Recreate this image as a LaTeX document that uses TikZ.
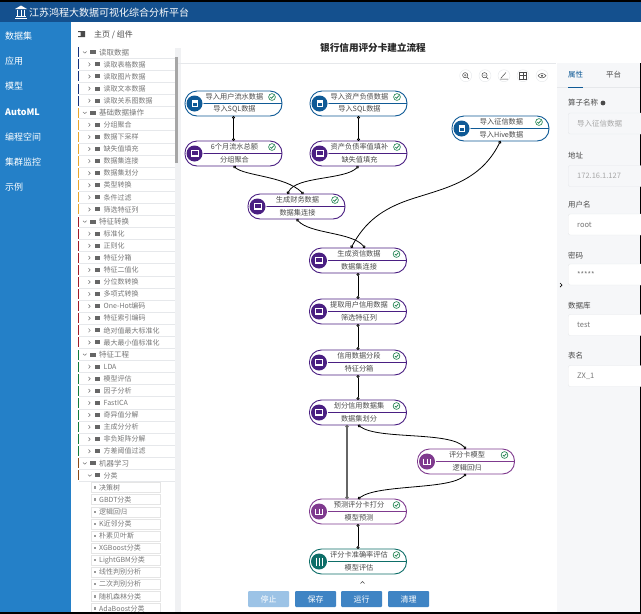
\documentclass[tikz,border=0pt]{standalone}
\usepackage{fontspec}
\setmainfont{Noto Sans CJK SC}
\usetikzlibrary{arrows.meta}
\definecolor{headblue}{HTML}{14508E}
\definecolor{sideblue}{HTML}{2480C8}
\definecolor{cardblue}{HTML}{0F5A96}
\definecolor{cardpurple}{HTML}{4A1F82}
\definecolor{cardmagenta}{HTML}{7F3A8E}
\definecolor{cardteal}{HTML}{0E6E68}
\definecolor{okgreen}{HTML}{117A45}
\definecolor{inktext}{HTML}{4A4A4A}
\definecolor{softtext}{HTML}{777777}
\definecolor{panelgrey}{HTML}{F6F7F9}
\definecolor{linegrey}{HTML}{E6E8EB}
\definecolor{barnavy}{HTML}{16307A}
\definecolor{barorange}{HTML}{E8A62C}
\definecolor{barred}{HTML}{A01C28}
\definecolor{bargreen}{HTML}{137A3C}
\definecolor{barbrown}{HTML}{8A4A18}
\definecolor{btnblue}{HTML}{3F84C4}
\definecolor{btnpale}{HTML}{9CC3E6}
\tikzset{port/.tip={Circle[open,fill=white,length=3pt,width=3pt]}}
\tikzstyle{card}=[draw,fill=white,rounded corners=12pt,minimum width=97pt,minimum height=25pt,inner sep=0pt,outer sep=0pt,line width=.9pt,anchor=north west]
\tikzstyle{cardtop}=[font=\fontsize{7.2}{8}\selectfont,text=inktext,inner sep=0pt]
\tikzstyle{cardsub}=[font=\fontsize{7.2}{8}\selectfont,text=inktext,inner sep=0pt]
\tikzstyle{flow}=[port-port,black,line width=.8pt]
\tikzstyle{sideitem}=[font=\fontsize{9}{10}\selectfont,text=white,anchor=west,inner sep=0pt]
\tikzstyle{treetext}=[font=\fontsize{7}{8}\selectfont,text=softtext,anchor=west,inner sep=0pt]
\tikzstyle{paneltext}=[font=\fontsize{7.5}{8}\selectfont,text=inktext,anchor=west,inner sep=0pt]
\tikzstyle{fieldbox}=[draw=linegrey,rounded corners=2pt,minimum width=78pt,minimum height=21pt,anchor=west,inner sep=0pt]
\tikzstyle{btn}=[text=white,font=\fontsize{8}{9}\selectfont,minimum width=41pt,minimum height=16pt,inner sep=0pt,rounded corners=1pt,anchor=west]
\tikzstyle{tool}=[draw=linegrey,circle,minimum size=12pt,inner sep=0pt,fill=white]
\tikzset{
  docicon/.pic={\fill[white] (-3,-3.5) rectangle (3,3.5); \fill[cardblue] (-2,-1) rectangle (2,2);},
  boxicon/.pic={\draw[white,line width=.7pt] (-3.5,-3) rectangle (3.5,1.5); \fill[white] (-4,2) rectangle (4,3.5);},
  bookicon/.pic={\draw[white,line width=.9pt] (-3.5,-3) -- (-3.5,3) -- (3.5,3) -- (3.5,-3) (0,-3) -- (0,3);},
  sliceicon/.pic={\draw[white,line width=.9pt] (-3,-4) -- (-3,4) (0,-4) -- (0,4) (3,-4) -- (3,4);},
  okmark/.pic={\draw[okgreen,line width=.6pt] (0,0) circle (3.4); \draw[okgreen,line width=.7pt] (-1.6,0) -- (-.4,1.3) -- (1.8,-1.3);}
}
% one block of the flow
\newcommand{\card}[7]{
  \path (#2,#3) node[card,draw=#4] (#1) {};
  \draw[#4,line width=.8pt] (#1.west) -- (#1.east);
  \fill[white] ([xshift=9.5pt]#1.west) circle (9pt);
  \fill[#4] ([xshift=9.5pt]#1.west) circle (8pt);
  \path ([xshift=9.5pt]#1.west) pic {#5};
  \path ([xshift=-10pt,yshift=6.5pt]#1.east) pic {okmark};
  \path ([xshift=1pt,yshift=6.3pt]#1.center) node[cardtop] (#1top) {#6};
  \path ([xshift=1pt,yshift=-6pt]#1.center) node[cardsub] (#1sub) {#7};
}
\begin{document}
\begin{tikzpicture}[x=1pt,y=-1pt]
\useasboundingbox (0,0) rectangle (641,614);
\fill[white] (0,0) rectangle (641,614);
% frame
\fill[sideblue] (0,22) rectangle (71,612);
\fill[headblue] (0,2) rectangle (641,22);
\fill[black] (0,0) rectangle (641,2);
\fill[black] (640.2,63) rectangle (641,614);
\draw[white,line width=.8pt] (15,18.5) -- (27,18.5) (16,16.5) -- (26,16.5) (17.5,9.5) -- (17.5,16) (21,9.5) -- (21,16) (24.5,9.5) -- (24.5,16);
\fill[white] (15,9) -- (21,5.5) -- (27,9) -- cycle;
\path (29,12.5) node[anchor=west,text=white,inner sep=0pt,font=\fontsize{10}{11}\selectfont] (apptitle) {江苏鸿程大数据可视化综合分析平台};
% left menu
\path (5,36) node[sideitem] (menu1) {数据集};
\path (5,61) node[sideitem] (menu2) {应用};
\path (5,86) node[sideitem] (menu3) {模型};
\path (5,112) node[sideitem,font=\fontsize{9}{10}\selectfont\bfseries] (menu4) {AutoML};
\path (5,137) node[sideitem] (menu5) {编程空间};
\path (5,162) node[sideitem] (menu6) {集群监控};
\path (5,187) node[sideitem] (menu7) {示例};
\fill[inktext] (78,31) rectangle (85,32.2) (78,36) rectangle (85,37.2) (80.5,32.2) rectangle (85,36);
\path (94,34.5) node[anchor=west,inner sep=0pt,text=inktext,font=\fontsize{8}{9}\selectfont] (crumb) {主页 / 组件};
% component tree
\fill[linegrey!60] (175,48) rectangle (181,612);
\fill[black!35] (175,57) rectangle (178,163);
\foreach \lvl/\barc/\txt [count=\i from 0] in {
 0/barnavy/读取数据,1/barnavy/读取表格数据,1/barnavy/读取图片数据,1/barnavy/读取文本数据,1/barnavy/读取关系图数据,
 0/barorange/基础数据操作,1/barorange/分组聚合,1/barorange/数据下采样,1/barorange/缺失值填充,1/barorange/数据集连接,1/barorange/数据集划分,1/barorange/类型转换,1/barorange/条件过滤,1/barorange/筛选特征列,
 0/barred/特征转换,1/barred/标准化,1/barred/正则化,1/barred/特征分箱,1/barred/特征二值化,1/barred/分位数转换,1/barred/多项式转换,1/barred/One-Hot编码,1/barred/特征索引编码,1/barred/绝对值最大标准化,1/barred/最大最小值标准化,
 0/bargreen/特征工程,1/bargreen/LDA,1/bargreen/模型评估,1/bargreen/因子分析,1/bargreen/FastICA,1/bargreen/奇异值分解,1/bargreen/主成分分析,1/bargreen/非负矩阵分解,1/bargreen/方差阈值过滤,
 0/barbrown/机器学习,2/barbrown/分类,
 3/white/决策树,3/white/GBDT分类,3/white/逻辑回归,3/white/K近邻分类,3/white/朴素贝叶斯,3/white/XGBoost分类,3/white/LightGBM分类,3/white/线性判别分析,3/white/二次判别分析,3/white/随机森林分类,3/white/AdaBoost分类}
{
  \pgfmathsetmacro\rowy{52.3+12.09*\i}
  \ifnum\lvl=3
    \path (91,\rowy) node[draw=black!10,anchor=west,minimum width=69pt,minimum height=10pt,inner sep=0pt] (leaf\i) {};
    \fill[black!40] (93.5,\rowy-1.2) rectangle (96,\rowy+1.2);
    \path (99,\rowy) node[treetext] (row\i) {\txt};
  \else
    \draw[linegrey] (79,\rowy+5.8) -- (175,\rowy+5.8);
    \fill[\barc] (78,\rowy-5) rectangle (79.2,\rowy+5);
    \ifnum\lvl=1
      \draw[black!55,line width=.5pt] (88.5,\rowy-1.8) -- (90.2,\rowy) -- (88.5,\rowy+1.8);
      \fill[black!60] (94.5,\rowy-2) rectangle (100,\rowy+2);
      \path (103.5,\rowy) node[treetext] (row\i) {\txt};
    \else
      \ifnum\lvl=0
        \draw[black!55,line width=.5pt] (83,\rowy-.8) -- (84.8,\rowy+.8) -- (86.6,\rowy-.8);
        \fill[black!60] (90,\rowy-2) rectangle (96,\rowy+2);
        \path (99,\rowy) node[treetext,font=\fontsize{7.5}{8}\selectfont] (row\i) {\txt};
      \else
        \draw[black!55,line width=.5pt] (88,\rowy-.8) -- (89.8,\rowy+.8) -- (91.6,\rowy-.8);
        \fill[black!60] (94.5,\rowy-2) rectangle (100,\rowy+2);
        \path (103.5,\rowy) node[treetext] (row\i) {\txt};
      \fi
    \fi
  \fi
}
\fill[black] (0,612) rectangle (641,614);
% title and tools
\path (373,47.5) node[inner sep=0pt,font=\fontsize{9.6}{11}\selectfont\bfseries,text=black!85] (flowtitle) {银行信用评分卡建立流程};
\draw[linegrey] (178,63.5) -- (556,63.5);
\path (465.7,75.7) node[tool] (toolA) {};
\path (485,75.7) node[tool] (toolB) {};
\path (504,75.7) node[tool] (toolC) {};
\path (523,75.7) node[tool] (toolD) {};
\path (542,75.7) node[tool] (toolE) {};
\draw[inktext,line width=.5pt] (465.2,75.2) circle (2.6) (467,77) -- (469,79) (464,75.2) -- (466.4,75.2) (465.2,74) -- (465.2,76.4);
\draw[inktext,line width=.5pt] (484.5,75.2) circle (2.6) (486.3,77) -- (488.3,79) (483.3,75.2) -- (485.7,75.2);
\draw[inktext,line width=.5pt] (500,79) -- (508,79) (501,78) -- (506,72.5);
\draw[inktext,line width=.5pt] (519.5,72.5) rectangle (526.5,79) (523,72.5) -- (523,79) (519.5,75.7) -- (526.5,75.7);
\draw[inktext,line width=.5pt] (538,75.7) .. controls (540,72.8) and (544,72.8) .. (546,75.7) .. controls (544,78.6) and (540,78.6) .. (538,75.7);
\fill[inktext] (542,75.7) circle (1.2);
% property panel
\fill[panelgrey] (557,63) rectangle (640.2,612);
\draw[linegrey] (557,87.5) -- (640.2,87.5);
\path (568,75) node[paneltext,text=cardblue] (tabA) {属性};
\path (606,75) node[paneltext] (tabB) {平台};
\draw[cardblue,line width=.7pt] (568,87) -- (583,87);
\foreach \lname/\ly/\ltext/\fy/\fcol/\ftext/\tcol in {
  fa/103/算子名称/123.5/panelgrey/导入征信数据/black!35,
  fb/156/地址/176/panelgrey/172.16.1.127/black!35,
  fc/205/用户名/224.5/white/root/softtext,
  fd/256/密码/274.5/white/*****/softtext,
  fe/306/数据库/325/white/test/softtext,
  ff/356/表名/376/white/ZX\_1/softtext}
{
  \path (568,\ly) node[paneltext] (\lname) {\ltext};
  \path (568,\fy) node[fieldbox,fill=\fcol] (\lname box) {};
  \path (577,\fy) node[paneltext,text=\tcol] (\lname val) {\ftext};
}
\fill[inktext] (603,103) circle (2.4);
\draw[black,line width=.7pt] (560,283) -- (562,285) -- (560,287);
% flow blocks
\card{userdata}{185}{91}{cardblue}{docicon}{导入用户流水数据}{导入SQL数据}
\card{assetdata}{310}{91}{cardblue}{docicon}{导入资产负债数据}{导入SQL数据}
\card{creditdata}{452}{116}{cardblue}{docicon}{导入征信数据}{导入Hive数据}
\card{groupsum}{185}{141}{cardpurple}{boxicon}{6个月流水总额}{分组聚合}
\card{fillgap}{310}{141}{cardpurple}{boxicon}{资产负债率值填补}{缺失值填充}
\card{financejoin}{248}{194}{cardpurple}{boxicon}{生成财务数据}{数据集连接}
\card{creditjoin}{309.5}{248}{cardpurple}{boxicon}{生成资信数据}{数据集连接}
\card{picker}{309.5}{299}{cardpurple}{boxicon}{提取用户信用数据}{筛选特征列}
\card{binning}{309.5}{350}{cardpurple}{boxicon}{信用数据分段}{特征分箱}
\card{splitter}{309.5}{400}{cardpurple}{boxicon}{划分信用数据集}{数据集划分}
\card{scoremodel}{417.5}{449}{cardmagenta}{bookicon}{评分卡模型}{逻辑回归}
\card{predictor}{309.5}{499}{cardmagenta}{bookicon}{预测评分卡打分}{模型预测}
\card{evaluator}{309.5}{549}{cardteal}{sliceicon}{评分卡准确率评估}{模型评估}
% connectors
\coordinate (bendA) at (410,199.5);
\draw[flow] (userdata.south) -- (groupsum.north);
\draw[flow] (assetdata.south) -- (fillgap.north);
\draw[flow] (groupsum.south) .. controls (245,176) and (285,176) .. ([xshift=7pt]financejoin.north);
\draw[flow] (fillgap.south) .. controls (345,180) and (296,176) .. ([xshift=-9pt]financejoin.north);
\draw[flow] (financejoin.south) .. controls (310,234) and (352,232) .. ([xshift=7pt]creditjoin.north);
\draw[port-,black,line width=.8pt] (creditdata.south) .. controls (480,182) and (445,188) .. (bendA);
\draw[-port,black,line width=.8pt] (bendA) .. controls (382,209) and (365,222) .. ([xshift=-7pt]creditjoin.north);
\draw[flow] (creditjoin.south) -- (picker.north);
\draw[flow] (picker.south) -- (binning.north);
\draw[flow] (binning.south) -- (splitter.north);
\draw[flow,black!60,line width=2pt] ([xshift=-11pt]splitter.south) -- ([xshift=-11pt]predictor.north);
\draw[flow] (splitter.south) .. controls (378,440) and (450,431) .. (scoremodel.north);
\draw[flow] (scoremodel.south) .. controls (450,490) and (378,484) .. (predictor.north);
\draw[flow] (predictor.south) -- (evaluator.north);
\draw[inktext,line width=.5pt] (360.5,583.5) -- (362.5,581.5) -- (364.5,583.5);
% buttons
\path (248,599) node[btn,fill=btnpale] (btnstop) {停止};
\path (295,599) node[btn,fill=btnblue] (btnsave) {保存};
\path (341,599) node[btn,fill=btnblue] (btnrun) {运行};
\path (388,599) node[btn,fill=btnblue] (btnclear) {清理};
\end{tikzpicture}
\end{document}
